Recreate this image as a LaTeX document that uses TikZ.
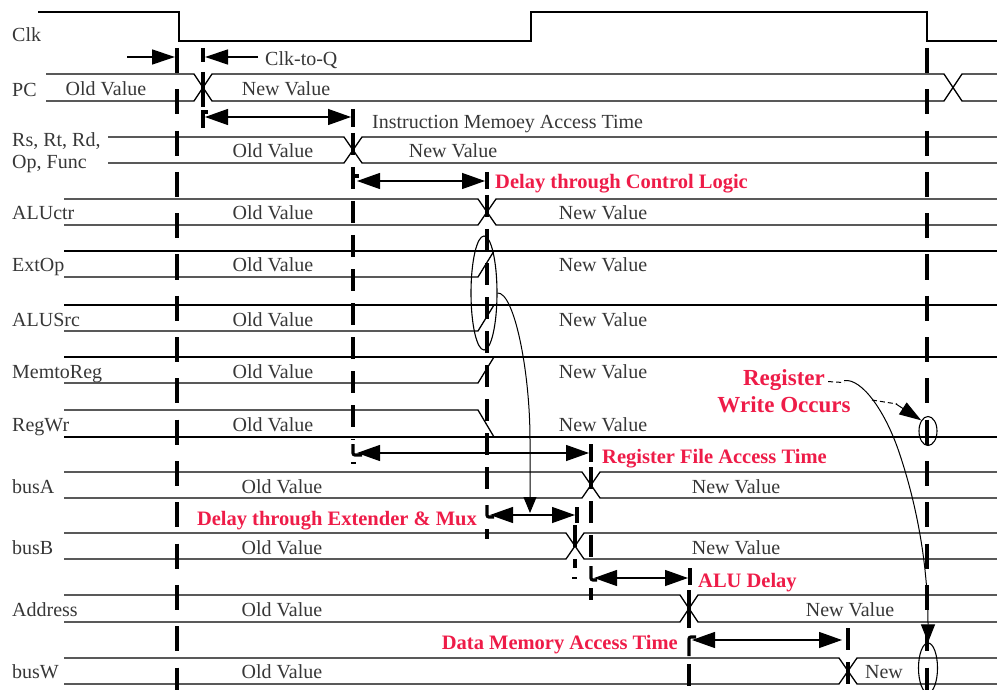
\documentclass[tikz,border=0pt]{standalone}
\usepackage{fontspec}
\setmainfont{Liberation Serif}
\usetikzlibrary{arrows.meta,shapes.geometric}
\definecolor{lblred}{RGB}{238,28,72}
\definecolor{txtgray}{RGB}{55,55,55}
\newcommand\dgfont{\fontsize{20}{24}\selectfont}
\newcommand\dgbold{\bfseries\fontsize{20.5}{24}\selectfont}
\begin{document}
\begin{tikzpicture}[x=1pt,y=-1pt,
  sig/.style={line width=1.3pt},
  tline/.style={line width=3.2pt, dash pattern=on 25pt off 16.3pt},
  tline2/.style={line width=3.2pt, dash pattern=on 22pt off 12pt},
  tbar/.style={line width=3.2pt},
  darr/.style={line width=1.3pt, {Triangle[length=23pt,width=16pt]}-{Triangle[length=23pt,width=16pt]}},
  sarr/.style={line width=1.3pt, -{Triangle[length=23pt,width=15pt]}},
  carr/.style={line width=1pt, -{Triangle[length=16pt,width=13pt]}},
  val/.style={anchor=base, text=txtgray, font=\dgfont, inner sep=0pt},
  sname/.style={anchor=base west, text=txtgray, font=\dgfont, inner sep=0pt},
  note/.style={text=lblred, font=\dgbold, inner sep=0pt},
  ring/.style={ellipse, draw, line width=1.1pt, inner sep=0pt},
]
\useasboundingbox (0,0) rectangle (997,690);

% ---------------- signal lines ----------------
% Clk
\draw[sig] (38,12) -- (179,12) -- (179,41) -- (531,41) -- (531,12) -- (927,12) -- (927,41) -- (997,41);
% PC
\draw[sig] (46,74) -- (194,74) -- (212,101) -- (944,101) -- (962,74) -- (997,74);
\draw[sig] (46,101) -- (194,101) -- (212,74) -- (944,74) -- (962,101) -- (997,101);
% Rs, Rt, Rd, Op, Func
\draw[sig] (108,137) -- (344,137) -- (362,163) -- (997,163);
\draw[sig] (108,163) -- (344,163) -- (362,137) -- (997,137);
% ALUctr
\draw[sig] (64,199) -- (478,199) -- (496,225) -- (997,225);
\draw[sig] (64,225) -- (478,225) -- (496,199) -- (997,199);
% ExtOp
\draw[sig] (64,251) -- (997,251);
\draw[sig] (64,277) -- (478,277) -- (494,251);
% ALUSrc
\draw[sig] (64,305) -- (997,305);
\draw[sig] (64,331) -- (478,331) -- (494,305);
% MemtoReg
\draw[sig] (64,357) -- (997,357);
\draw[sig] (64,383) -- (478,383) -- (494,357);
% RegWr
\draw[sig] (64,437) -- (997,437);
\draw[sig] (64,410) -- (478,410) -- (494,437);
% busA
\draw[sig] (64,472) -- (582,472) -- (600,498) -- (997,498);
\draw[sig] (64,498) -- (582,498) -- (600,472) -- (997,472);
% busB
\draw[sig] (64,533) -- (566,533) -- (584,559) -- (997,559);
\draw[sig] (64,559) -- (566,559) -- (584,533) -- (997,533);
% Address
\draw[sig] (64,595) -- (680,595) -- (698,622) -- (997,622);
\draw[sig] (64,622) -- (680,622) -- (698,595) -- (997,595);
% busW
\draw[sig] (64,658) -- (839,658) -- (857,684) -- (997,684);
\draw[sig] (64,684) -- (839,684) -- (857,658) -- (997,658);

% ---------------- timing marks ----------------
\draw[tline] (177,48) -- (177,690);
\draw[tline] (927,48) -- (927,690);
% x = 203
\draw[tbar] (203,48) -- (203,62);
\draw[tbar] (203,72) -- (203,107);
\draw[tbar] (203,110) -- (203,128);
\draw[tbar] (203,112) -- (208,112);
% x = 353
\draw[tbar] (353,109) -- (353,127);
\draw[tline2] (353,133) -- (353,440);
\draw[tbar, rounded corners=2pt] (353,444) -- (353,455) -- (362,455);
\draw[line width=1.5pt] (351,463) -- (356,463);
\draw[tbar] (353,176) -- (359,176);
% x = 487
\draw[tbar] (487,172) -- (487,189);
\draw[tline2] (487,195) -- (487,500);
\draw[tbar, rounded corners=2pt] (487,505) -- (487,517) -- (494,517);
\draw[tbar] (487,529) -- (487,539);
% x = 577 / 575
\draw[tbar] (577,507) -- (577,523);
\draw[tline2] (575,525) -- (575,568);
\draw[line width=1.5pt] (572,578) -- (577,578);
% x = 591
\draw[tbar] (591,444) -- (591,462);
\draw[tline2] (591,467) -- (591,562);
\draw[tbar, rounded corners=2pt] (591,566) -- (591,580) -- (597,580);
\draw[tbar] (591,588) -- (591,600);
% x = 690 / 688
\draw[tbar] (690,568) -- (690,585);
\draw[tbar] (689,590) -- (689,628);
\draw[tbar, rounded corners=2pt] (689,656) -- (689,637) -- (696,637);
\draw[tline2] (689,664) -- (689,690);
% x = 848
\draw[tline2] (848,628) -- (848,690);

% ---------------- delay arrows ----------------
\coordinate (ctq-a) at (127,57);   \coordinate (ctq-b) at (175,57);
\coordinate (ctq-c) at (258,57);   \coordinate (ctq-d) at (205,57);
\draw[sarr] (ctq-a) -- (ctq-b);
\draw[sarr] (ctq-c) -- (ctq-d);
\coordinate (im-l) at (205,117);   \coordinate (im-r) at (351,117);
\draw[darr] (im-l) -- (im-r);
\coordinate (cl-l) at (357,181);   \coordinate (cl-r) at (485,181);
\draw[darr] (cl-l) -- (cl-r);
\coordinate (rf-l) at (357,453);   \coordinate (rf-r) at (589,453);
\draw[darr] (rf-l) -- (rf-r);
\coordinate (em-l) at (490,515);   \coordinate (em-r) at (575,515);
\draw[darr] (em-l) -- (em-r);
\coordinate (alu-l) at (594,578);  \coordinate (alu-r) at (688,578);
\draw[darr] (alu-l) -- (alu-r);
\coordinate (dm-l) at (692,640);   \coordinate (dm-r) at (842,640);
\draw[darr] (dm-l) -- (dm-r);

% ---------------- ellipses and curved connectors ----------------
\node[ring, minimum width=26pt, minimum height=114pt] (e1) at (484,293) {};
\node[ring, minimum width=18pt, minimum height=29pt] (e2) at (928,431) {};
\node[ring, minimum width=19pt, minimum height=50pt] (e3) at (928,668) {};
\coordinate (emtip) at (530,513);
\draw[carr] (e1.east) .. controls (514,292) and (530,370) .. (530,440) -- (emtip);

% ---------------- labels ----------------
\node[sname] (n-clk) at (12,42) {Clk};
\node[sname] (n-pc) at (12,97) {PC};
\node[sname] (n-rs) at (12,147) {Rs, Rt, Rd,};
\node[sname] (n-op) at (12,169) {Op, Func};
\node[sname] (n-aluctr) at (12,220) {ALUctr};
\node[sname] (n-extop) at (12,272) {ExtOp};
\node[sname] (n-alusrc) at (12,326) {ALUSrc};
\node[sname] (n-m2r) at (12,378) {MemtoReg};
\node[sname] (n-regwr) at (12,431) {RegWr};
\node[sname] (n-busa) at (12,493) {busA};
\node[sname] (n-busb) at (12,554) {busB};
\node[sname] (n-addr) at (12,616) {Address};
\node[sname] (n-busw) at (12,678) {busW};

\node[val] (v-pc-o) at (106,95.5) {Old Value};
\node[val] (v-pc-n) at (286,95.5) {New Value};
\node[val] (v-rs-o) at (273,158) {Old Value};
\node[val] (v-rs-n) at (453,158) {New Value};
\node[val] (v-au-o) at (273,220) {Old Value};
\node[val] (v-au-n) at (603,220) {New Value};
\node[val] (v-eo-o) at (273,272) {Old Value};
\node[val] (v-eo-n) at (603,272) {New Value};
\node[val] (v-as-o) at (273,326) {Old Value};
\node[val] (v-as-n) at (603,326) {New Value};
\node[val] (v-mr-o) at (273,378) {Old Value};
\node[val] (v-mr-n) at (603,378) {New Value};
\node[val] (v-rw-o) at (273,431) {Old Value};
\node[val] (v-rw-n) at (603,431) {New Value};
\node[val] (v-ba-o) at (282,493) {Old Value};
\node[val] (v-ba-n) at (736,493) {New Value};
\node[val] (v-bb-o) at (282,554) {Old Value};
\node[val] (v-bb-n) at (736,554) {New Value};
\node[val] (v-ad-o) at (282,616) {Old Value};
\node[val] (v-ad-n) at (850,616) {New Value};
\node[val] (v-bw-o) at (282,678) {Old Value};
\node[val] (v-bw-n) at (884,678) {New};

\node[sname] (t-ctq) at (265,66) {Clk-to-Q};
\node[sname] (t-im) at (372,129) {Instruction Memoey Access Time};

\node[note, anchor=base west] (t-cl) at (495,189) {Delay through Control Logic};
\node[note, anchor=base west] (t-rf) at (602,463) {Register File Access Time};
\node[note, anchor=base east] (t-em) at (477,525) {Delay through Extender \& Mux};
\node[note, anchor=base west] (t-alu) at (698,587) {ALU Delay};
\node[note, anchor=base east] (t-dm) at (678,649) {Data Memory Access Time};
\node[note, anchor=base, font=\bfseries\fontsize{23}{26}\selectfont] (t-reg) at (784,385) {Register};
\node[note, anchor=base, font=\bfseries\fontsize{23}{26}\selectfont] (t-wo) at (784,412) {Write Occurs};

% Register Write Occurs connectors
\coordinate (rw-brk) at (872,400);
\draw[line width=1pt, dash pattern=on 5pt off 3pt] ([xshift=3pt,yshift=-2pt]t-reg.east) -- ++(16,1);
\draw[line width=1pt, -{Triangle[length=18pt,width=14pt]}] ([xshift=19pt,yshift=-1pt]t-reg.east) .. controls (862,378) and (886,412) .. (900,455) .. controls (915,500) and (928,560) .. (e3.north);
\draw[line width=1pt, dash pattern=on 5pt off 3pt] (rw-brk) -- (897,404);
\draw[line width=1pt, -{Triangle[length=22pt,width=14pt]}] (896,404) -- (e2.north west);
\end{tikzpicture}
\end{document}
